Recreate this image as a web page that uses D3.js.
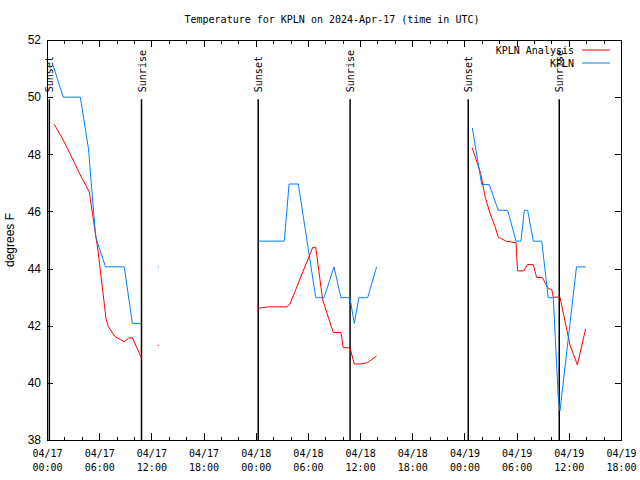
<!DOCTYPE html>
<html><head><meta charset="utf-8">
<script src="https://cdn.jsdelivr.net/npm/d3@7"></script>
<style>body{margin:0;background:#fff}svg{display:block}</style>
</head><body>
<script>
const chartTitle = "Temperature for KPLN on 2024-Apr-17 (time in UTC)";
const yAxisLabel = "degrees F";
const seriesNames = ["KPLN Analysis", "KPLN"];
const seriesColors = ["#ff0000", "#0080ff"];
const yTickValues = [38, 40, 42, 44, 46, 48, 50, 52];
const xDomain = ["2024-04-17T00:00Z", "2024-04-19T18:00Z"];
const sunLabels = ["Sunset", "Sunrise", "Sunset", "Sunrise", "Sunset", "Sunrise"];
const sunTimes = ["2024-04-17T00:16Z", "2024-04-17T10:52Z", "2024-04-18T00:17Z",
                  "2024-04-18T10:51Z", "2024-04-19T00:26Z", "2024-04-19T10:54Z"];

// KPLN observations (null = gap)
const kplnTimes = [
 "2024-04-17T00:43Z","2024-04-17T01:52Z","2024-04-17T02:53Z","2024-04-17T03:50Z","2024-04-17T04:46Z",
 "2024-04-17T05:36Z","2024-04-17T06:44Z","2024-04-17T07:53Z","2024-04-17T08:53Z","2024-04-17T09:49Z",
 "2024-04-17T10:53Z","2024-04-17T11:53Z","2024-04-17T12:48Z","2024-04-17T13:53Z",
 "2024-04-18T00:18Z","2024-04-18T03:17Z","2024-04-18T03:50Z","2024-04-18T04:54Z","2024-04-18T06:54Z",
 "2024-04-18T07:51Z","2024-04-18T09:00Z","2024-04-18T09:48Z","2024-04-18T10:50Z","2024-04-18T11:20Z",
 "2024-04-18T11:52Z","2024-04-18T12:52Z","2024-04-18T13:54Z","2024-04-18T20:00Z",
 "2024-04-19T00:54Z","2024-04-19T01:59Z","2024-04-19T02:51Z","2024-04-19T03:53Z","2024-04-19T04:58Z",
 "2024-04-19T05:56Z","2024-04-19T06:30Z","2024-04-19T06:53Z","2024-04-19T07:16Z","2024-04-19T07:55Z",
 "2024-04-19T08:53Z","2024-04-19T09:38Z","2024-04-19T10:13Z","2024-04-19T10:47Z","2024-04-19T10:59Z",
 "2024-04-19T12:53Z","2024-04-19T13:56Z"];
const kplnValues = [
 51.1, 50.0, 50.0, 50.0, 48.2,
 45.1, 44.06, 44.06, 44.06, 42.08,
 42.08, null, 44.06, null,
 44.96, 44.96, 46.96, 46.96, 42.98,
 42.98, 44.06, 42.98, 42.98, 42.08,
 42.98, 42.98, 44.06, null,
 48.92, 46.94, 46.94, 46.04, 46.04,
 44.96, 44.96, 46.04, 46.04, 44.96,
 44.96, 42.98, 42.98, 39.5, 39.02,
 44.06, 44.06];

// KPLN Analysis
const analysisTimes = [
 "2024-04-17T00:50Z","2024-04-17T01:52Z","2024-04-17T02:53Z","2024-04-17T03:53Z","2024-04-17T04:52Z",
 "2024-04-17T05:52Z","2024-04-17T06:47Z","2024-04-17T07:03Z","2024-04-17T07:49Z","2024-04-17T08:53Z",
 "2024-04-17T09:21Z","2024-04-17T09:49Z","2024-04-17T10:53Z","2024-04-17T11:53Z","2024-04-17T12:48Z",
 "2024-04-17T13:53Z",
 "2024-04-18T00:18Z","2024-04-18T01:27Z","2024-04-18T03:34Z","2024-04-18T03:56Z","2024-04-18T06:33Z",
 "2024-04-18T06:54Z","2024-04-18T07:42Z","2024-04-18T08:55Z","2024-04-18T09:48Z","2024-04-18T10:04Z",
 "2024-04-18T10:50Z","2024-04-18T11:20Z","2024-04-18T12:04Z","2024-04-18T12:52Z","2024-04-18T13:54Z",
 "2024-04-18T20:00Z",
 "2024-04-19T00:54Z","2024-04-19T01:52Z","2024-04-19T02:22Z","2024-04-19T02:56Z","2024-04-19T03:31Z",
 "2024-04-19T03:53Z","2024-04-19T04:51Z","2024-04-19T05:56Z","2024-04-19T06:06Z","2024-04-19T06:51Z",
 "2024-04-19T07:14Z","2024-04-19T07:55Z","2024-04-19T08:18Z","2024-04-19T08:57Z","2024-04-19T09:38Z",
 "2024-04-19T10:02Z","2024-04-19T10:13Z","2024-04-19T10:59Z","2024-04-19T12:08Z","2024-04-19T12:59Z",
 "2024-04-19T13:56Z"];
const analysisValues = [
 49.05, 48.5, 47.87, 47.24, 46.68,
 44.62, 42.26, 41.97, 41.62, 41.44,
 41.56, 41.58, 40.86, null, 41.31,
 null,
 42.61, 42.66, 42.66, 42.76, 44.74,
 44.74, 42.9, 41.76, 41.76, 41.23,
 41.23, 40.66, 40.66, 40.71, 40.94,
 null,
 48.22, 47.33, 46.52, 45.94, 45.47,
 45.1, 44.95, 44.91, 43.92, 43.92,
 44.14, 44.14, 43.69, 43.69, 43.3,
 43.27, 43.0, 43.0, 41.33, 40.63,
 41.89];

const W = 640, H = 480;
const m = {left: 47, right: 19, top: 40, bottom: 40};
const pw = W - m.left - m.right, ph = H - m.top - m.bottom;
const mono = "'DejaVu Sans Mono', monospace";
const sans = "'Liberation Sans', Arial, sans-serif";

const svg = d3.select("body").append("svg").attr("width", W).attr("height", H);
const g = svg.append("g").attr("transform", `translate(${m.left},${m.top})`);

const x = d3.scaleUtc().domain(xDomain.map(d3.isoParse)).range([0, pw]);
const y = d3.scaleLinear().domain([38, 52]).range([ph, 0]);

function styleAxis(sel) {
  sel.select(".domain").remove();
  sel.selectAll("line").attr("stroke", "#000").attr("shape-rendering", "crispEdges");
}

const fmtD = d3.utcFormat("%m/%d"), fmtT = d3.utcFormat("%H:%M");
const axBottom = g.append("g").attr("transform", `translate(0,${ph})`)
  .call(d3.axisBottom(x).ticks(d3.utcHour.every(6)).tickSize(-7).tickSizeOuter(0).tickPadding(10).tickFormat(""));
styleAxis(axBottom);
axBottom.selectAll(".tick text").each(function(d) {
  const t = d3.select(this).attr("font-family", mono).attr("font-size", 10).attr("fill", "#000");
  t.append("tspan").attr("x", 0).text(fmtD(d));
  t.append("tspan").attr("x", 0).attr("dy", "1.35em").text(fmtT(d));
});
const axBottomMinor = g.append("g").attr("transform", `translate(0,${ph})`)
  .call(d3.axisBottom(x).ticks(d3.utcHour.every(2)).tickSize(-3.5).tickSizeOuter(0).tickFormat(""));
styleAxis(axBottomMinor);
const axTop = g.append("g")
  .call(d3.axisTop(x).ticks(d3.utcHour.every(6)).tickSize(-7).tickSizeOuter(0).tickFormat(""));
styleAxis(axTop);
const axTopMinor = g.append("g")
  .call(d3.axisTop(x).ticks(d3.utcHour.every(2)).tickSize(-3.5).tickSizeOuter(0).tickFormat(""));
styleAxis(axTopMinor);

const axLeft = g.append("g")
  .call(d3.axisLeft(y).tickValues(yTickValues).tickSize(-6).tickSizeOuter(0).tickPadding(6));
styleAxis(axLeft);
axLeft.selectAll(".tick text").attr("font-family", sans).attr("font-size", 12).attr("fill", "#000");
const axRight = g.append("g").attr("transform", `translate(${pw},0)`)
  .call(d3.axisRight(y).tickValues(yTickValues).tickSize(-6).tickSizeOuter(0).tickFormat(""));
styleAxis(axRight);

g.append("rect").attr("x", 0).attr("y", 0).attr("width", pw).attr("height", ph)
  .attr("fill", "none").attr("stroke", "#000").attr("shape-rendering", "crispEdges");

const lineTop = ph * 0.148;
sunTimes.forEach((t, i) => {
  const xx = x(d3.isoParse(t));
  g.append("line").attr("x1", xx).attr("x2", xx).attr("y1", lineTop).attr("y2", ph)
    .attr("stroke", "#000").attr("stroke-width", 1.5);
  g.append("text").attr("transform", `translate(${xx + 4},${lineTop - 7}) rotate(-90)`)
    .attr("font-family", mono).attr("font-size", 10).attr("fill", "#000")
    .attr("text-anchor", "start").text(sunLabels[i]);
});

function build(times, values) {
  return times.map((t, i) => ({t: d3.isoParse(t), v: values[i]}));
}
const series = [build(analysisTimes, analysisValues), build(kplnTimes, kplnValues)];
const line = d3.line().defined(d => d.v != null).x(d => x(d.t)).y(d => y(d.v));
series.forEach((data, si) => {
  g.append("path").datum(data).attr("d", line).attr("fill", "none")
    .attr("stroke", seriesColors[si]).attr("stroke-width", 1);
  data.forEach((d, i) => {
    const prev = data[i - 1], next = data[i + 1];
    if (d.v != null && (!prev || prev.v == null) && (!next || next.v == null)) {
      g.append("rect").attr("x", x(d.t) - 0.5).attr("y", y(d.v) - 0.5)
        .attr("width", 1).attr("height", 1).attr("fill", seriesColors[si]);
    }
  });
});

seriesNames.forEach((name, i) => {
  const ly = 10 + i * 13;
  g.append("text").attr("x", pw - 47).attr("y", ly).attr("dy", "0.35em")
    .attr("text-anchor", "end").attr("font-family", mono).attr("font-size", 10)
    .attr("fill", "#000").text(name);
  g.append("line").attr("x1", pw - 39).attr("x2", pw - 11).attr("y1", ly).attr("y2", ly)
    .attr("stroke", seriesColors[i]).attr("stroke-width", 1);
});

svg.append("text").attr("x", 332).attr("y", 23).attr("text-anchor", "middle")
  .attr("font-family", mono).attr("font-size", 10).attr("fill", "#000").text(chartTitle);
svg.append("text").attr("transform", `translate(14,${m.top + ph / 2}) rotate(-90)`)
  .attr("text-anchor", "middle").attr("font-family", sans).attr("font-size", 12)
  .attr("fill", "#000").text(yAxisLabel);
</script>
</body></html>
